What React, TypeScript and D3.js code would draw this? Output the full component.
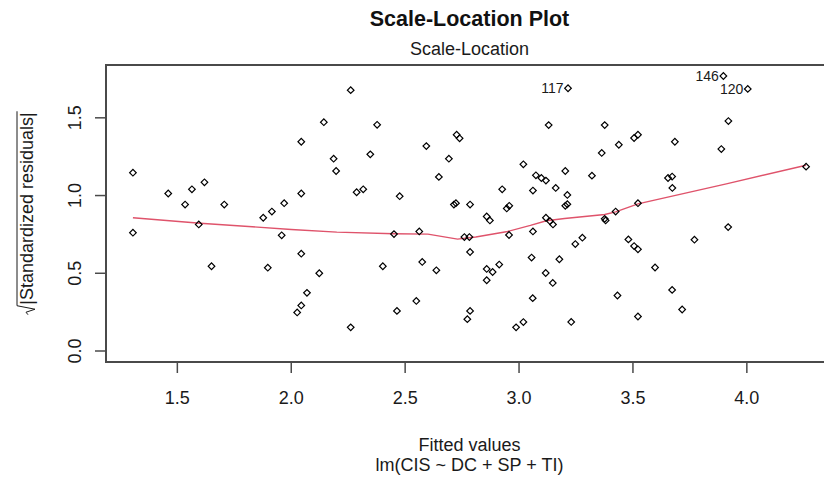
import React from "react";
import * as d3 from "d3";

const FONT = "'Liberation Sans', Arial, Helvetica, sans-serif";

// fitted values (x) and sqrt(|standardized residuals|) (y)
const fittedX = [
  1.305, 1.46, 1.534, 1.564, 1.619, 1.706, 1.877, 1.915, 1.969, 2.044, 2.044, 2.143, 2.186, 2.197,
  1.305, 1.594, 1.65, 1.958, 2.044, 1.897, 2.123, 2.069, 2.044, 2.026,
  2.261, 2.377, 2.347, 2.287, 2.316, 2.476, 2.593, 2.726, 2.739, 2.692, 2.648, 2.714, 2.723, 2.785,
  2.858, 2.872, 2.926, 2.946, 2.957, 3.019, 3.061, 3.074, 3.098, 3.118, 3.161, 3.13, 3.203, 3.212,
  3.203, 3.212, 3.118, 3.215,
  2.451, 2.562, 2.76, 2.782, 2.785, 2.956, 3.061, 3.136, 3.149, 2.402, 2.575, 2.637, 2.858, 2.884,
  2.913, 2.858, 3.055, 3.177, 3.117, 3.148, 2.549, 2.464, 3.06, 2.785, 2.773, 2.261, 2.987, 3.019, 3.229,
  3.897, 4.004, 3.376, 3.363, 3.438, 3.505, 3.522, 3.684, 3.919, 3.888, 3.32, 3.654, 3.672, 3.673,
  3.522, 3.424, 3.376, 3.38, 4.26, 3.247, 3.278, 3.48, 3.505, 3.522, 3.77, 3.918, 3.597, 3.432,
  3.672, 3.716, 3.522,
];
const sqrtStdResid = [
  1.147, 1.013, 0.942, 1.04, 1.085, 0.942, 0.857, 0.897, 0.951, 1.346, 1.013, 1.472, 1.237, 1.158,
  0.761, 0.814, 0.545, 0.744, 0.626, 0.536, 0.5, 0.374, 0.293, 0.248,
  1.678, 1.455, 1.265, 1.021, 1.04, 0.996, 1.318, 1.391, 1.368, 1.237, 1.12, 0.942, 0.951, 0.942,
  0.865, 0.84, 1.04, 0.917, 0.934, 1.201, 1.032, 1.13, 1.113, 1.096, 1.049, 1.453, 1.158, 1.004,
  0.934, 0.944, 0.857, 1.69,
  0.752, 0.769, 0.733, 0.733, 0.637, 0.746, 0.769, 0.835, 0.814, 0.545, 0.573, 0.519, 0.528, 0.508,
  0.556, 0.455, 0.601, 0.59, 0.502, 0.438, 0.322, 0.258, 0.34, 0.258, 0.205, 0.152, 0.152, 0.186, 0.187,
  1.769, 1.686, 1.453, 1.274, 1.327, 1.37, 1.391, 1.346, 1.479, 1.299, 1.128, 1.113, 1.122, 1.049,
  0.951, 0.897, 0.85, 0.84, 1.186, 0.688, 0.729, 0.718, 0.675, 0.654, 0.716, 0.797, 0.537, 0.357,
  0.393, 0.267, 0.222,
];

// labelled observations
const labelIds = ["117", "146", "120"];
const labelX = [3.215, 3.897, 4.004];
const labelY = [1.69, 1.769, 1.686];

// smoother (lowess)
const smoothX = [1.305, 1.6, 2.0, 2.2, 2.45, 2.6, 2.73, 2.81, 2.95, 3.05, 3.12, 3.2, 3.376, 3.424, 3.522, 3.91, 4.26];
const smoothY = [0.857, 0.822, 0.782, 0.765, 0.754, 0.752, 0.72, 0.733, 0.769, 0.808, 0.838, 0.852, 0.878, 0.895, 0.946, 1.075, 1.195];

const xTicks = [1.5, 2.0, 2.5, 3.0, 3.5, 4.0];
const yTicks = [0.0, 0.5, 1.0, 1.5];

const titleText = "Scale-Location Plot";
const subTitleText = "Scale-Location";
const xLabelText = "Fitted values";
const subLabelText = "lm(CIS ~ DC + SP + TI)";
const yLabelText = "|Standardized residuals|";

function measure(text: string, size: number, weight = "normal") {
  try {
    const ctx = document.createElement("canvas").getContext("2d");
    if (!ctx) return text.length * size * 0.5;
    ctx.font = `${weight} ${size}px ${FONT}`;
    return ctx.measureText(text).width;
  } catch (e) {
    return text.length * size * 0.5;
  }
}

export default function App() {
  const W = 824;
  const H = 480;
  const left = 106;
  const top = 65;
  const right = 833;
  const bottom = 362;

  const xmin = d3.min(fittedX) as number;
  const xmax = d3.max(fittedX) as number;
  const xr = xmax - xmin;
  const ymax = d3.max(sqrtStdResid) as number;

  const x = d3.scaleLinear().domain([xmin - 0.04 * xr, xmax + 0.04 * xr]).range([left, right]);
  const y = d3.scaleLinear().domain([-0.04 * ymax, ymax * 1.04]).range([bottom, top]);

  const smoothPts: [number, number][] = smoothX.map((v, i) => [v, smoothY[i]]);
  const line = d3
    .line<[number, number]>()
    .x((d) => x(d[0]))
    .y((d) => y(d[1]));

  const diamond = d3.symbol().type(d3.symbolSquare).size(22)() as string;

  const fs = 18;
  const yLabW = measure(yLabelText, fs);
  const radW = 10;
  const x0 = -(yLabW + radW) / 2;
  const cx = (left + right) / 2;
  const textColor = "#1a1a1a";
  const axisColor = "#4a4a4a";

  return (
    <svg
      width={W}
      height={H}
      style={{ position: "absolute", left: 0, top: 0, background: "#fff" }}
      fontFamily={FONT}
    >
      <rect x={0} y={0} width={W} height={H} fill="#fff" />
      {/* titles */}
      <text x={cx} y={26} textAnchor="middle" fontSize={21.5} fontWeight="bold" fill="#111">
        {titleText}
      </text>
      <text x={cx} y={55} textAnchor="middle" fontSize={fs} fill={textColor}>
        {subTitleText}
      </text>

      {/* smoother */}
      <path d={line(smoothPts) || ""} fill="none" stroke="#DF536B" strokeWidth={1.4} />

      {/* points */}
      {fittedX.map((v, i) => (
        <path
          key={i}
          d={diamond}
          transform={`translate(${x(v)},${y(sqrtStdResid[i])}) rotate(45)`}
          fill="none"
          stroke="#000"
          strokeWidth={1.2}
        />
      ))}

      {/* point labels */}
      {labelIds.map((id, i) => (
        <text
          key={id}
          x={x(labelX[i]) - 4.5}
          y={y(labelY[i]) + 5}
          textAnchor="end"
          fontSize={14}
          fill={textColor}
        >
          {id}
        </text>
      ))}

      {/* box */}
      <rect x={left} y={top} width={right - left} height={bottom - top} fill="none" stroke={axisColor} strokeWidth={2} />

      {/* x axis */}
      {xTicks.map((t) => (
        <g key={"x" + t}>
          <line x1={x(t)} x2={x(t)} y1={bottom} y2={bottom + 11} stroke={axisColor} strokeWidth={1.5} />
          <text x={x(t)} y={404} textAnchor="middle" fontSize={fs} fill={textColor}>
            {t.toFixed(1)}
          </text>
        </g>
      ))}

      {/* y axis */}
      {yTicks.map((t) => (
        <g key={"y" + t}>
          <line x1={left - 11} x2={left} y1={y(t)} y2={y(t)} stroke={axisColor} strokeWidth={1.5} />
          <text
            transform={`translate(81,${y(t)}) rotate(-90)`}
            textAnchor="middle"
            fontSize={fs}
            fill={textColor}
          >
            {t.toFixed(1)}
          </text>
        </g>
      ))}

      {/* axis labels */}
      <text x={cx} y={451} textAnchor="middle" fontSize={fs} fill={textColor}>
        {xLabelText}
      </text>
      <text x={cx} y={471} textAnchor="middle" fontSize={fs} fill={textColor}>
        {subLabelText}
      </text>

      <g transform={`translate(33,${(top + bottom) / 2}) rotate(-90)`}>
        <path
          d={`M${x0},-5 L${x0 + 2.5},-7 L${x0 + 5.5},2 L${x0 + radW - 1},-16 L${x0 + radW + yLabW + 1},-16`}
          fill="none"
          stroke={textColor}
          strokeWidth={1}
        />
        <text x={x0 + radW} y={0} fontSize={fs} fill={textColor}>
          {yLabelText}
        </text>
      </g>
    </svg>
  );
}
